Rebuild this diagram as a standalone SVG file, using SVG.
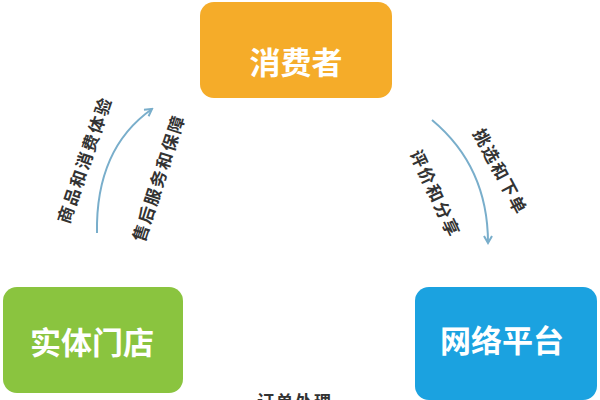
<svg xmlns="http://www.w3.org/2000/svg" width="600" height="400" viewBox="0 0 600 400">
<defs>
<style>
.box-text{font-family:"Liberation Sans","Noto Sans CJK SC",sans-serif;font-size:31px;fill:#ffffff;text-anchor:middle;font-weight:bold}
.lbl{font-family:"Liberation Sans","Noto Sans CJK SC",sans-serif;font-size:17px;fill:#333333;text-anchor:middle;letter-spacing:2px;font-weight:bold}
.conn{fill:none;stroke:#79AECB;stroke-width:2}
</style>
<marker id="arr" markerWidth="10" markerHeight="10" refX="8" refY="5" orient="auto" markerUnits="userSpaceOnUse">
<path d="M1,1 L8,5 L1,9" fill="none" stroke="#79AECB" stroke-width="2"/>
</marker>
</defs>
<rect width="600" height="400" fill="#ffffff"/>
<g id="consumer">
<rect x="200" y="2" width="192" height="96" rx="14" fill="#F5AC29"/>
<text class="box-text" x="296" y="74">消费者</text>
</g>
<g id="store">
<rect x="3" y="287" width="180" height="106" rx="14" fill="#8AC43F"/>
<text class="box-text" x="92" y="354">实体门店</text>
</g>
<g id="platform">
<rect x="415" y="287" width="182" height="113" rx="14" fill="#1BA2E0"/>
<text class="box-text" x="502" y="352">网络平台</text>
</g>
<g id="connectors">
<path class="conn" d="M97,233 C96,175 115,135 152,109" marker-end="url(#arr)"/>
<path class="conn" d="M432,120 C468,150 488,190 488,243" marker-end="url(#arr)"/>
</g>
<g id="labels">
<text class="lbl" transform="translate(85,160) rotate(-71)" y="6">商品和消费体验</text>
<text class="lbl" transform="translate(159,178) rotate(-72)" y="6">售后服务和保障</text>
<text class="lbl" transform="translate(500,172) rotate(62)" y="6">挑选和下单</text>
<text class="lbl" transform="translate(435,194) rotate(65)" y="6">评价和分享</text>
<text class="lbl" x="295" y="408">订单处理</text>
</g>
</svg>
